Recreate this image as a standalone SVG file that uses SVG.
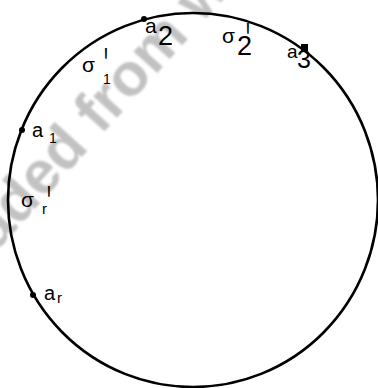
<svg xmlns="http://www.w3.org/2000/svg" width="378" height="388" viewBox="0 0 378 388">
<style>
.lbl{font-family:"Liberation Sans",Arial,sans-serif;fill:#000}
.pr{font-family:"Liberation Sans",Arial,sans-serif;fill:#000;font-size:50px}
.dot{fill:#000}
.wm{font-family:"Liberation Sans",Arial,sans-serif;font-weight:bold;font-size:60px;fill:#c2c2c2}
</style>
<defs><filter id="blur" x="-10%" y="-10%" width="120%" height="120%"><feGaussianBlur stdDeviation="1.3"/></filter></defs>
<rect width="378" height="388" fill="#fff"/>
<g id="watermark" filter="url(#blur)"><text class="wm" transform="translate(-4,252) rotate(-48)">aded from w</text></g>
<g id="connectors"><ellipse cx="193" cy="200" rx="185" ry="187" fill="none" stroke="#000" stroke-width="2.6"/></g>
<g id="a2"><circle class="dot" cx="144" cy="19" r="3"/><text class="lbl" x="145" y="33" font-size="21">a<tspan x="158" y="45" font-size="27">2</tspan></text></g>
<g id="sigma2"><text class="lbl" x="222" y="43" font-size="21">σ</text><text class="pr" transform="translate(246,58) scale(0.4,1)">'</text><text class="lbl" x="237" y="55" font-size="27">2</text></g>
<g id="a3"><rect class="dot" x="301" y="44" width="7" height="7"/><text class="lbl" x="287" y="58" font-size="19">a<tspan x="297" y="68" font-size="25">3</tspan></text></g>
<g id="sigma1"><text class="lbl" x="82" y="72" font-size="21">σ</text><text class="pr" transform="translate(104,83) scale(0.4,1)">'</text><text class="lbl" x="103" y="84" font-size="14">1</text></g>
<g id="a1"><circle class="dot" cx="22" cy="130" r="3"/><text class="lbl" x="32" y="137" font-size="20">a<tspan x="49" y="143" font-size="14">1</tspan></text></g>
<g id="sigmar"><text class="lbl" x="21" y="207" font-size="21">σ</text><text class="pr" transform="translate(47,221) scale(0.4,1)">'</text><text class="lbl" x="42" y="214" font-size="15">r</text></g>
<g id="ar"><circle class="dot" cx="33" cy="295" r="3"/><text class="lbl" x="44" y="300" font-size="20">a<tspan x="57" y="303" font-size="15">r</tspan></text></g>
</svg>
